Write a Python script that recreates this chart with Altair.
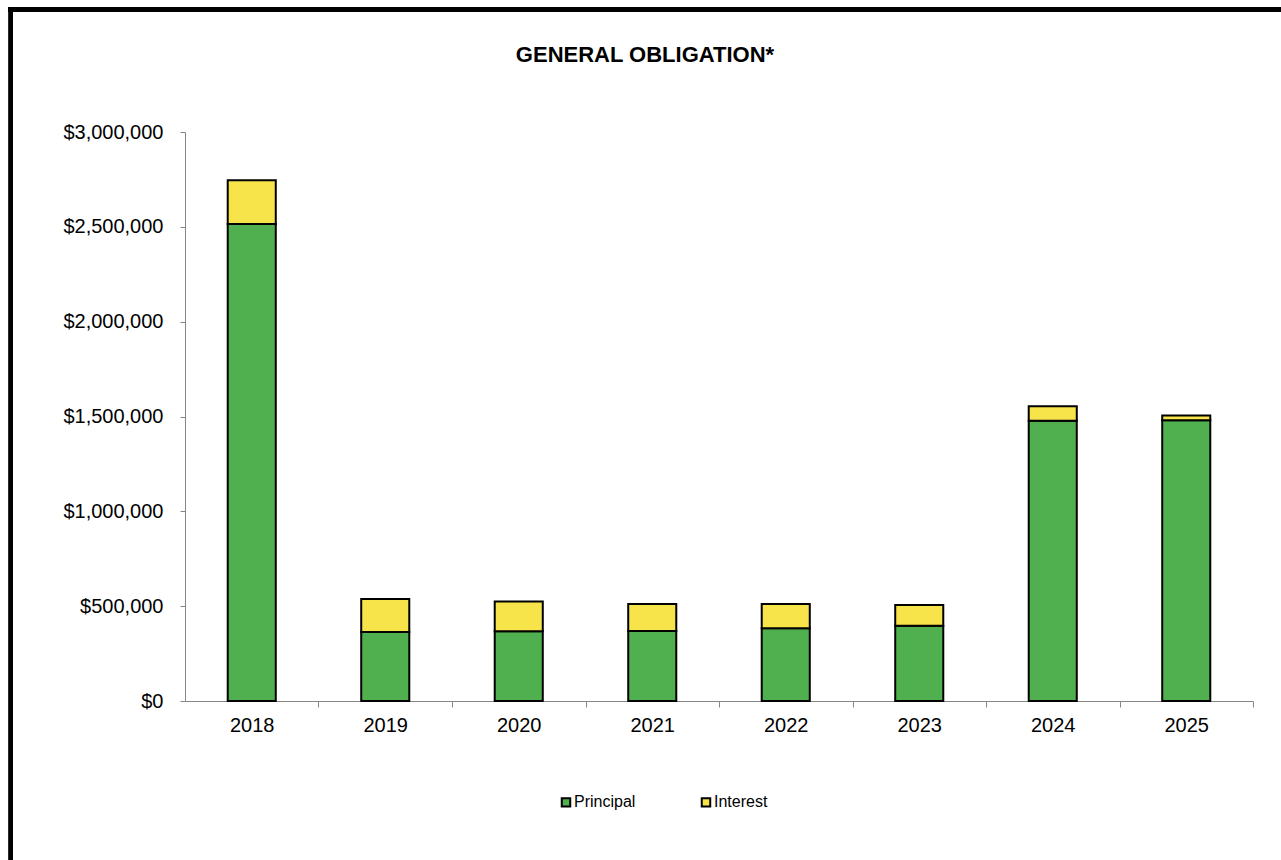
import altair as alt
import pandas as pd

years = ["2018", "2019", "2020", "2021", "2022", "2023", "2024", "2025"]
principal = [2515000, 364000, 368000, 369000, 383000, 397000, 1478000, 1480000]
interest = [230000, 174000, 156000, 142000, 128000, 109000, 76000, 25000]
series = ["Principal", "Interest"]
colors = ["#50B050", "#F7E34A"]
title_text = ["GENERAL OBLIGATION*"]

rows = []
for y, p, i in zip(years, principal, interest):
    rows.append({"Year": y, "Series": "Principal", "Amount": p, "Order": 0})
    rows.append({"Year": y, "Series": "Interest", "Amount": i, "Order": 1})
df = pd.DataFrame(rows)
title_df = pd.DataFrame({"t": title_text})

W, H = 1068, 569
step = W / len(years)
pin = 0.64
bw = step * (1 - pin)
half_gap = pin * step / 2

font = "Liberation Sans"

bars = alt.Chart(df).mark_bar(stroke="black", strokeWidth=2).encode(
    x=alt.X("Year:N", sort=years,
            scale=alt.Scale(paddingInner=pin, paddingOuter=pin / 2),
            axis=alt.Axis(title=None, labelAngle=0, labelFontSize=20, labelFont=font,
                          labelColor="black", domainColor="#868686", tickColor="#868686",
                          tickSize=6, labelPadding=8, bandPosition=1,
                          tickOffset=half_gap, labelOffset=-half_gap)),
    y=alt.Y("Amount:Q", stack="zero",
            scale=alt.Scale(domain=[0, 3000000], nice=False),
            axis=alt.Axis(title=None, format="$,.0f", values=[0, 500000, 1000000, 1500000, 2000000, 2500000, 3000000],
                          labelFontSize=20, labelFont=font, labelColor="black",
                          domainColor="#868686", tickColor="#868686", tickSize=5,
                          labelPadding=17, grid=False)),
    color=alt.Color("Series:N", sort=series,
                    scale=alt.Scale(domain=series, range=colors),
                    legend=alt.Legend(title=None, orient="none", legendX=373, legendY=662,
                                      direction="horizontal", symbolType="square",
                                      symbolSize=72, symbolStrokeColor="black",
                                      symbolStrokeWidth=2, labelFontSize=16, labelFont=font,
                                      labelColor="black", columnPadding=61, labelOffset=0,
                                      padding=0)),
    order=alt.Order("Order:Q"),
)

title = alt.Chart(title_df).mark_text(
    font=font, fontSize=22, fontWeight="bold", color="black", align="center", baseline="middle"
).encode(text="t:N", x=alt.value(645 - 185), y=alt.value(55 - 132))

top_border = alt.Chart(df).mark_rule(color="black", strokeWidth=4).encode(
    x=alt.value(-177), x2=alt.value(1110), y=alt.value(-122.7)
)
left_border = alt.Chart(df).mark_rule(color="black", strokeWidth=3.6).encode(
    x=alt.value(-174.3), y=alt.value(-124.7), y2=alt.value(740)
)

chart = alt.layer(bars, title, top_border, left_border).properties(
    width=W, height=H,
    autosize=alt.AutoSizeParams(type="none"),
    padding={"left": 185, "top": 132, "right": 28, "bottom": 159},
).configure(background="white").configure_view(stroke=None)

chart.save("out.html", embed_options={"renderer": "svg", "actions": False})
